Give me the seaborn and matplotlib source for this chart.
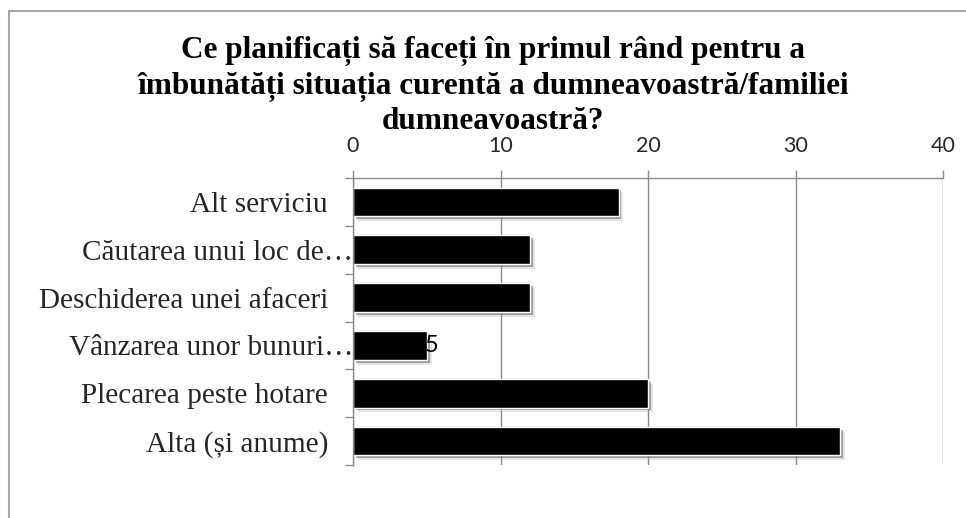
import numpy as np
import pandas as pd
import seaborn as sns
import matplotlib.pyplot as plt
import matplotlib.patheffects as pe
from matplotlib.patches import Rectangle
from matplotlib.transforms import ScaledTranslation

# data
title_lines = ["Ce planificați să faceți în primul rând pentru a",
               "îmbunătăți situația curentă a dumneavoastră/familiei",
               "dumneavoastră?"]
categories = ["Alt serviciu", "Căutarea unui loc de…", "Deschiderea unei afaceri",
              "Vânzarea unor bunuri…", "Plecarea peste hotare", "Alta (și anume)"]
values = [18, 12, 12, 5, 20, 33]
x_ticks = [0, 10, 20, 30, 40]

df = pd.DataFrame({"cat": categories, "val": values})

sns.set_theme(style="white")
plt.rcParams['font.family'] = ['Liberation Serif', 'DejaVu Serif']

W, H = 966, 518
fig = plt.figure(figsize=(W / 100, H / 100), dpi=100)
fig.patch.set_facecolor("white")
renderer = fig.canvas.get_renderer()


def fit_size(text, target_px, **kw):
    t = fig.text(0, 0, text, fontsize=20, **kw)
    w = t.get_window_extent(renderer=renderer).width
    t.remove()
    return 20 * target_px / w


# outer chart frame (only top/left edges inside the image)
fig.add_artist(Rectangle((9 / W, -0.2), 1.2, 1 - 11 / H + 0.2, transform=fig.transFigure,
                         fill=False, edgecolor="#a6a6a6", lw=1.5))

# title, three centered lines
title_fs = fit_size(title_lines[1], 711, fontweight="bold")
for i, line in enumerate(title_lines):
    fig.text(493 / W, 1 - (58 + 35.5 * i) / H, line, ha="center", va="baseline",
             fontsize=title_fs, fontweight="bold", color="black")

ax = fig.add_axes([353 / W, 1 - 465 / H, 590 / W, 287 / H])
sns.barplot(data=df, y="cat", x="val", orient="h", color="black", saturation=1,
            width=0.6, ax=ax)

grey = "#8a8a8a"
for bar in ax.patches:
    bar.set_path_effects([
        pe.SimplePatchShadow(offset=(3.5, -3.5), shadow_rgbFace="#aaaaaa", alpha=0.3),
        pe.SimplePatchShadow(offset=(2, -2), shadow_rgbFace="#555555", alpha=0.5),
        pe.Normal()])

ax.set_xlim(0, 40)
ax.set_ylim(len(categories) - 0.5, -0.5)
ax.set_xticks(x_ticks)
ax.xaxis.tick_top()
ax.set_xlabel("")
ax.set_ylabel("")
ax.grid(axis="x", color=grey, lw=1)
ax.grid(axis="y", visible=False)
ax.set_axisbelow(True)
for s in ["bottom", "right"]:
    ax.spines[s].set_visible(False)
for s in ["top", "left"]:
    ax.spines[s].set_color(grey)
    ax.spines[s].set_linewidth(1)

ax.tick_params(axis="x", which="major", top=True, bottom=False, length=5.8, width=1,
               color=grey, pad=10, labelsize=15.5, direction="out")
for lbl in ax.get_xticklabels():
    lbl.set_fontfamily("Lato")

cat_fs = fit_size("Deschiderea unei afaceri", 290)
ax.set_yticks(np.arange(len(categories)))
ax.set_yticks(np.arange(-0.5, len(categories)), minor=True)
ax.tick_params(axis="y", which="major", length=0, pad=18, labelsize=cat_fs)
ax.tick_params(axis="y", which="minor", left=True, length=5.8, width=1, color=grey,
               direction="out")
ax.set_yticklabels(categories)
for lbl in ax.get_yticklabels():
    if lbl.get_text().endswith("…"):
        lbl.set_transform(lbl.get_transform() +
                          ScaledTranslation(18 / 72, 0, fig.dpi_scale_trans))

# value labels: black on black inside the bar, outside when the bar is short
for i, v in enumerate(values):
    if v < 10:
        ax.annotate(str(v), (v, i), xytext=(-2, 0), textcoords="offset pixels",
                    ha="left", va="center", fontsize=17, family="Lato", color="black")
    else:
        ax.annotate(str(v), (v, i), xytext=(-4, 0), textcoords="offset pixels",
                    ha="right", va="center", fontsize=17, family="Lato", color="black")

fig.savefig("out.png", dpi=100)
